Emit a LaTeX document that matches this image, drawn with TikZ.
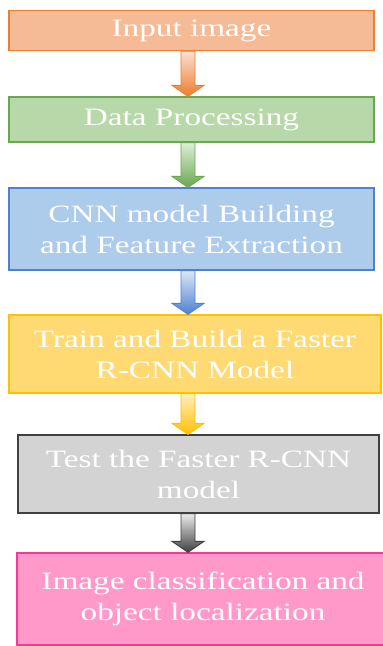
\documentclass[tikz,border=0pt]{standalone}
\usepackage{fontspec}
\setmainfont{Liberation Serif}[FakeStretch=1.33]
\usetikzlibrary{calc}

\definecolor{orFill}{HTML}{F5BA96}
\definecolor{orLine}{HTML}{ED7D31}
\definecolor{grFill}{HTML}{B7D8A8}
\definecolor{grLine}{HTML}{6AA84F}
\definecolor{blFill}{HTML}{ADCBEA}
\definecolor{blLine}{HTML}{4F81D0}
\definecolor{yeFill}{HTML}{FFDA73}
\definecolor{yeLine}{HTML}{FFC000}
\definecolor{gyFill}{HTML}{D3D3D3}
\definecolor{gyLine}{HTML}{404040}
\definecolor{pkFill}{HTML}{FF99C9}
\definecolor{pkLine}{HTML}{FF3399}

\tikzset{
  stage/.style={draw, line width=1.3pt, text=white, align=center,
    inner sep=0pt, font=\fontsize{25}{31}\selectfont},
}

% block arrow from the bottom of one node to the top of the next
\newcommand{\flowarrow}[4]{%
  \shade[top color=#3!45, bottom color=#4, draw=#4, line width=0.9pt]
    let \p1=(#1.south), \p2=(#2.north) in
    (181pt,\y1) -- (195pt,\y1) -- (195pt,\y2+11pt) -- (204pt,\y2+11pt)
    -- (188pt,\y2) -- (172pt,\y2+11pt) -- (181pt,\y2+11pt) -- cycle;
}

\begin{document}
\begin{tikzpicture}[x=1pt,y=-1pt]
  \useasboundingbox (0,0) rectangle (383,646);
  \clip (0,0) rectangle (383,646);

  \node[stage, fill=orFill, draw=orLine, minimum width=365, minimum height=40]
    (input) at (191.5,30.5) {Input image};
  \node[stage, fill=grFill, draw=grLine, minimum width=365, minimum height=45]
    (proc) at (191.5,119.5) {Data Processing};
  \node[stage, fill=blFill, draw=blLine, minimum width=365, minimum height=82]
    (cnn) at (191.5,229) {CNN model Building\\and Feature Extraction};
  \node[stage, fill=yeFill, draw=yeLine, minimum width=372, minimum height=78]
    (train) at (195,354) {Train and Build a Faster\\R-CNN Model};
  \node[stage, fill=gyFill, draw=gyLine, minimum width=361, minimum height=78]
    (test) at (198.5,474) {Test the Faster R-CNN\\model};
  \node[stage, fill=pkFill, draw=pkLine, minimum width=372, minimum height=92]
    (result) at (203,599) {Image classification and\\object localization};

  \flowarrow{input}{proc}{orFill}{orLine}
  \flowarrow{proc}{cnn}{grFill}{grLine}
  \flowarrow{cnn}{train}{blFill}{blLine}
  \flowarrow{train}{test}{yeFill}{yeLine}
  \flowarrow{test}{result}{gyFill}{gyLine}
\end{tikzpicture}
\end{document}
